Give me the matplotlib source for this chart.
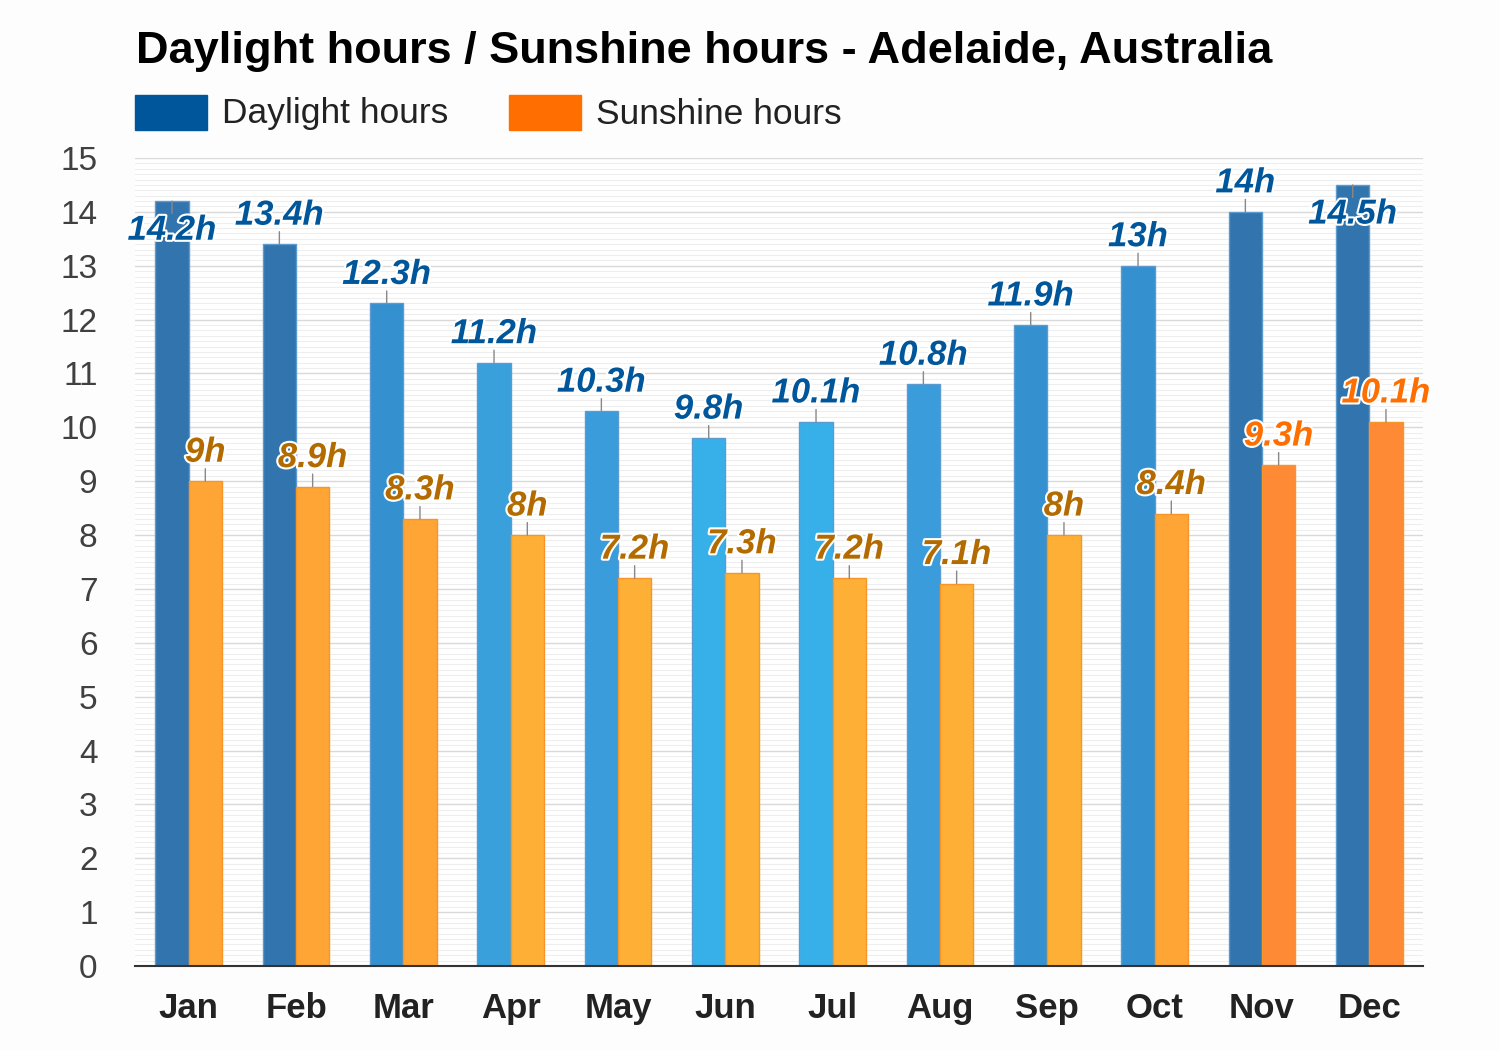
import matplotlib.pyplot as plt
import matplotlib.patheffects as pe
import numpy as np

months = ['Jan', 'Feb', 'Mar', 'Apr', 'May', 'Jun', 'Jul', 'Aug', 'Sep', 'Oct', 'Nov', 'Dec']
daylight = [14.2, 13.4, 12.3, 11.2, 10.3, 9.8, 10.1, 10.8, 11.9, 13, 14, 14.5]
sunshine = [9, 8.9, 8.3, 8, 7.2, 7.3, 7.2, 7.1, 8, 8.4, 9.3, 10.1]

day_colors = ['#3274ad', '#3274ad', '#3590cf', '#39a0dc', '#3a9cdb', '#37afe9',
              '#37afe9', '#3a9cdb', '#3590cf', '#3590cf', '#3274ad', '#3274ad']
sun_colors = ['#fea535', '#fea535', '#fea535', '#fdb035', '#fdb035', '#fdb035',
              '#fdb035', '#fdb035', '#fdb035', '#fea535', '#fe8a35', '#fe8a35']
day_lbl = '#00569b'
sun_lbl = ['#b36b00'] * 10 + ['#ff6e00', '#ff6e00']

plt.rcParams['font.family'] = ['Liberation Sans', 'DejaVu Sans']

fig = plt.figure(figsize=(15, 10.5), dpi=100, facecolor='#fcfdfc')
ax = fig.add_axes([135 / 1500, 84 / 1050, 1288 / 1500, 808 / 1050])
ax.set_facecolor('white')

x = np.arange(len(months))
w = 0.31
ax.bar(x - w / 2, daylight, w, color=day_colors, edgecolor='#5b9bd0', linewidth=1, zorder=3)
ax.bar(x + w / 2, sunshine, w, color=sun_colors, edgecolor='#f7942a', linewidth=1, zorder=3)

ax.set_xlim(-0.5, 11.5)
ax.set_ylim(0, 15)
ax.set_yticks(range(16))
ax.set_yticks(np.arange(0, 15, 0.1), minor=True)
ax.grid(axis='y', which='major', color='#d9d9d9', linewidth=1, zorder=0)
ax.grid(axis='y', which='minor', color='#eeeeee', linewidth=0.8, zorder=0)
ax.tick_params(axis='y', which='both', length=0, labelsize=24, labelcolor='#404040', pad=27)
ax.tick_params(axis='x', length=0, labelsize=25, pad=19)
ax.set_xticks(x)
ax.set_xticklabels(months, fontweight='bold', color='#222222')
for s in ['left', 'right', 'top']:
    ax.spines[s].set_visible(False)
ax.spines['bottom'].set_color('#333333')
ax.spines['bottom'].set_linewidth(1.5)
ax.spines['bottom'].set_zorder(4)

stroke = [pe.withStroke(linewidth=3, foreground='white')]


def label(xc, v, color):
    txt = f'{v:g}h'
    if v + 0.85 > 15:
        ax.annotate('', xy=(xc, v), xytext=(0, -9), textcoords='offset points',
                    arrowprops=dict(arrowstyle='-', color='#888888', lw=1,
                                    shrinkA=0, shrinkB=0), zorder=5)
        ax.annotate(txt, (xc, v), xytext=(0, -21), textcoords='offset points',
                    ha='center', va='center', fontsize=25, fontweight='bold',
                    fontstyle='italic', color=color, path_effects=stroke, zorder=6)
    else:
        ax.annotate('', xy=(xc, v), xytext=(0, 9), textcoords='offset points',
                    arrowprops=dict(arrowstyle='-', color='#888888', lw=1,
                                    shrinkA=0, shrinkB=0), zorder=5)
        ax.annotate(txt, (xc, v), xytext=(0, 9), textcoords='offset points',
                    ha='center', va='bottom', fontsize=25, fontweight='bold',
                    fontstyle='italic', color=color, path_effects=stroke, zorder=6)


for i in range(len(months)):
    label(x[i] - w / 2, daylight[i], day_lbl)
    label(x[i] + w / 2, sunshine[i], sun_lbl[i])

fig.text(136 / 1500, 1 - 63 / 1050, 'Daylight hours / Sunshine hours - Adelaide, Australia',
         fontsize=32.5, fontweight='bold', color='black', va='baseline')

fig.patches.append(plt.Rectangle((135 / 1500, 1 - 130 / 1050), 72 / 1500, 35 / 1050,
                                 color='#00569b', transform=fig.transFigure))
fig.text(222 / 1500, 1 - 114 / 1050, 'Daylight hours', fontsize=25.5, color='#222222', va='center')
fig.patches.append(plt.Rectangle((509 / 1500, 1 - 130 / 1050), 72 / 1500, 35 / 1050,
                                 color='#ff6e00', transform=fig.transFigure))
fig.text(596 / 1500, 1 - 114 / 1050, 'Sunshine hours', fontsize=25.5, color='#222222', va='center')

fig.savefig('out.png', dpi=100, facecolor=fig.get_facecolor())
